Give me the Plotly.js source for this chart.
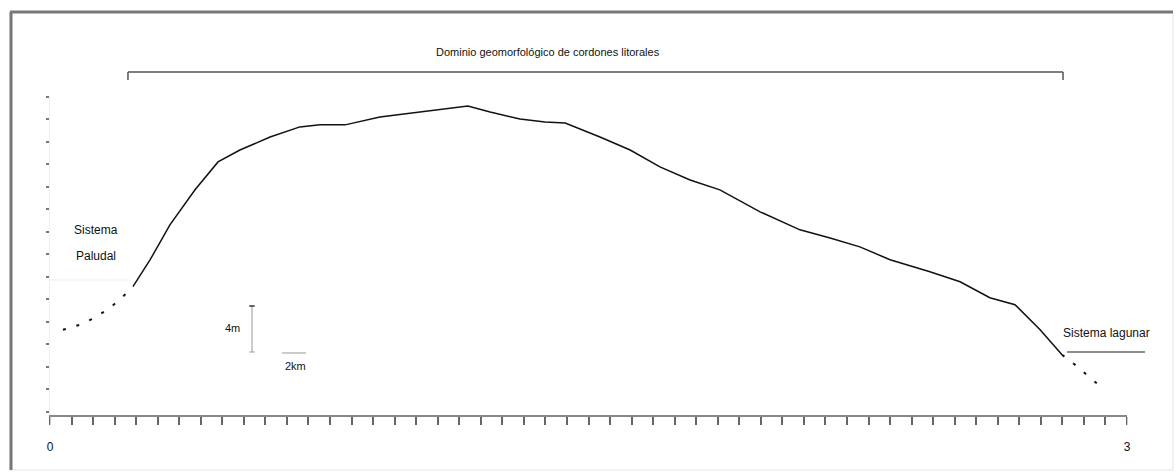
<!DOCTYPE html>
<html>
<head>
<meta charset="utf-8">
<script src="https://cdn.plot.ly/plotly-3.0.1.min.js"></script>
<style>html,body{margin:0;padding:0;background:#fff;}#chart{width:1176px;height:473px;}</style>
</head>
<body>
<div id="chart"></div>
<script>
// Profile: distance (axis units) and relative height
const paludalX = [0.036, 0.084, 0.125, 0.167, 0.200, 0.231];
const paludalY = [3.64, 3.87, 4.18, 4.62, 5.07, 5.56];

const profileX = [0.231, 0.279, 0.334, 0.404, 0.468, 0.529, 0.613, 0.696, 0.752, 0.822, 0.919, 1.031, 1.114, 1.164,
                  1.226, 1.309, 1.379, 1.435, 1.532, 1.616, 1.699, 1.783, 1.866, 1.978, 2.089, 2.173, 2.256, 2.340,
                  2.451, 2.535, 2.618, 2.688, 2.758, 2.819];
const profileY = [5.56, 6.76, 8.31, 9.87, 11.11, 11.64, 12.22, 12.67, 12.76, 12.76, 13.11, 13.33, 13.51, 13.60,
                  13.33, 13.02, 12.89, 12.84, 12.22, 11.64, 10.89, 10.31, 9.87, 8.89, 8.09, 7.73, 7.33, 6.76,
                  6.22, 5.78, 5.07, 4.76, 3.64, 2.53];

const lagunarX = [2.819, 2.855, 2.897, 2.930];
const lagunarY = [2.53, 2.09, 1.51, 1.07];

const xTickVals = [0, 3];
const xTickText = ["0", "3"];

const labelTop = "Dominio geomorfológico de cordones litorales";
const labelPaludal = ["Sistema", "Paludal"];
const labelLagunar = "Sistema lagunar";
const labelV = "4m";
const labelH = "2km";

const FONT = "'Liberation Sans', Arial, sans-serif";

const traces = [
  {x: paludalX, y: paludalY, mode: 'lines', line: {color: '#111', width: 2, dash: '3px,11px'}, hoverinfo: 'skip'},
  {x: profileX, y: profileY, mode: 'lines', line: {color: '#111', width: 1.5}, hoverinfo: 'skip'},
  {x: lagunarX, y: lagunarY, mode: 'lines', line: {color: '#111', width: 2, dash: '3px,11px'}, hoverinfo: 'skip'}
];

const shapes = [
  // outer frame
  {type: 'rect', xref: 'paper', yref: 'paper', x0: -0.0371, x1: 1.0427, y0: -0.173, y1: 1.267, line: {color: '#e4e4e4', width: 1}},
  {type: 'line', xref: 'paper', yref: 'paper', x0: -0.0362, x1: -0.0362, y0: -0.173, y1: 1.267, line: {color: '#777', width: 3}},
  {type: 'line', xref: 'paper', yref: 'paper', x0: -0.0371, x1: 1.0427, y0: 1.267, y1: 1.267, line: {color: '#777', width: 3}},
  // top bracket
  {type: 'line', xref: 'paper', yref: 'paper', x0: 0.0724, x1: 0.9406, y0: 1.0786, y1: 1.0786, line: {color: '#555', width: 1.5}},
  {type: 'line', xref: 'paper', yref: 'paper', x0: 0.0724, x1: 0.0724, y0: 1.0786, y1: 1.0535, line: {color: '#555', width: 1.5}},
  {type: 'line', xref: 'paper', yref: 'paper', x0: 0.9406, x1: 0.9406, y0: 1.0786, y1: 1.0535, line: {color: '#555', width: 1.5}},
  // vertical scale bar
  {type: 'line', xref: 'paper', yref: 'paper', x0: 0.1876, x1: 0.1876, y0: 0.1981, y1: 0.3428, line: {color: '#999', width: 1}},
  {type: 'line', xref: 'paper', yref: 'paper', x0: 0.1850, x1: 0.1900, y0: 0.3428, y1: 0.3428, line: {color: '#333', width: 1.5}},
  {type: 'line', xref: 'paper', yref: 'paper', x0: 0.1850, x1: 0.1900, y0: 0.1981, y1: 0.1981, line: {color: '#999', width: 1}},
  // horizontal scale bar
  {type: 'line', xref: 'paper', yref: 'paper', x0: 0.2154, x1: 0.2377, y0: 0.195, y1: 0.195, line: {color: '#999', width: 1}},
  // lagunar underline
  {type: 'line', xref: 'paper', yref: 'paper', x0: 0.9443, x1: 1.0167, y0: 0.1981, y1: 0.1981, line: {color: '#666', width: 1.5}},
  // faint line near paludal
  {type: 'line', xref: 'paper', yref: 'paper', x0: 0.0, x1: 0.0743, y0: 0.4245, y1: 0.4245, line: {color: '#eeeeee', width: 1}}
];

const ann = (x, y, text, size) => ({xref: 'paper', yref: 'paper', x: x, y: y, text: text, showarrow: false,
  xanchor: 'center', yanchor: 'middle', font: {family: FONT, size: size, color: '#111'}});

const annotations = [
  ann(0.4624, 1.1415, labelTop, 11),
  ann(0.0427, 0.5818, labelPaludal[0], 12),
  ann(0.0427, 0.5000, labelPaludal[1], 12),
  ann(0.1699, 0.2736, labelV, 11),
  ann(0.2275, 0.1540, labelH, 11),
  ann(0.9814, 0.2579, labelLagunar, 12)
];

const layout = {
  width: 1176, height: 473,
  margin: {l: 50, r: 49, t: 97, b: 58, pad: 0},
  paper_bgcolor: '#ffffff', plot_bgcolor: '#ffffff',
  showlegend: false,
  font: {family: FONT, size: 12, color: '#111'},
  xaxis: {
    range: [0, 3], showgrid: false, zeroline: false,
    showline: true, linecolor: '#888', linewidth: 1.5,
    tickvals: xTickVals, ticktext: xTickText,
    ticks: 'outside', ticklen: 8, tickwidth: 1, tickcolor: '#cccccc',
    ticklabelstandoff: 12,
    minor: {dtick: 0.06, tick0: 0, ticks: 'outside', ticklen: 8, tickwidth: 2, tickcolor: '#666', showgrid: false},
    tickfont: {family: FONT, size: 12, color: '#111'}
  },
  yaxis: {
    range: [-0.15, 14], showgrid: false, zeroline: false,
    showline: true, linecolor: '#eeeeee', linewidth: 1,
    dtick: 1, tick0: 0, ticks: 'outside', ticklen: 3, tickwidth: 2, tickcolor: '#777',
    showticklabels: false
  },
  shapes: shapes,
  annotations: annotations
};

Plotly.newPlot('chart', traces, layout, {staticPlot: true, displayModeBar: false});
</script>
</body>
</html>
